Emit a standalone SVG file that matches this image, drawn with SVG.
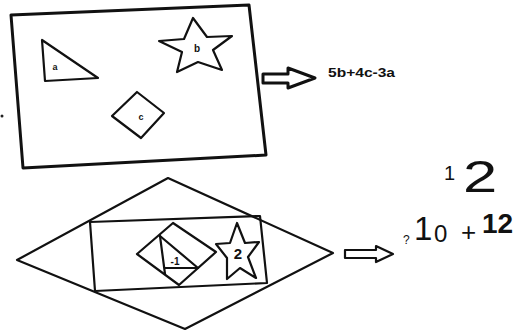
<svg xmlns="http://www.w3.org/2000/svg" width="523" height="331" viewBox="0 0 523 331">
<style>
.s{fill:none;stroke:#111;stroke-width:2.2;stroke-linejoin:round;stroke-linecap:round}
.thick{stroke-width:3}
.lbl{font-family:"Liberation Sans",Arial,sans-serif;fill:#111;font-weight:bold;text-anchor:middle}
.hand{font-family:"Liberation Sans",Arial,sans-serif;fill:#111}
</style>
<rect width="523" height="331" fill="#fff"/>
<g id="frame-top">
<polygon class="s thick" points="11,15 249,5 266,155 23,168"/>
</g>
<g id="triangle-a">
<polygon class="s" points="42,40 45,81 98,78"/>
<text class="lbl" x="55" y="70" font-size="9">a</text>
</g>
<g id="star-b">
<polygon class="s" points="193,18 207,37 232,36 213,50 222,70 198,62 177,72 182,52 159,41 184,39"/>
<text class="lbl" x="197" y="52" font-size="10">b</text>
</g>
<g id="diamond-c">
<polygon class="s" points="137,92 164,113 141,138 112,116"/>
<text class="lbl" x="141" y="120" font-size="9">c</text>
</g>
<circle cx="2" cy="116" r="1.5" fill="#222"/>
<g id="expr-top">
<text class="hand" x="328" y="77" font-size="12" font-weight="bold" textLength="67" lengthAdjust="spacingAndGlyphs">5b+4c-3a</text>
</g>
<g id="frame-bottom">
<polygon class="s" points="168,178 333,253 185,329 17,260"/>
<polygon class="s" points="90,222 260,216 267,283 95,291"/>
</g>
<g id="diamond-triangle">
<polygon class="s" points="173,223 216,252 179,285 137,254"/>
<polyline class="s" points="160,236 165,274"/>
<polyline class="s" points="160,236 198,268 165,268"/>
<text class="lbl" x="175" y="265" font-size="10">-1</text>
</g>
<g id="star-2">
<polygon class="s" points="237,223 245,243 259,242 248,257 256,278 240,268 227,279 227,258 216,244 230,243"/>
<text class="lbl" x="238" y="259" font-size="15" font-weight="normal">2</text>
</g>
<g id="expr-bottom">
<text class="hand"><tspan x="403" y="244" font-size="12">?</tspan><tspan x="414" y="240" font-size="33">1</tspan><tspan x="434" y="242" font-size="24">0</tspan><tspan x="461" y="241" font-size="26">+</tspan><tspan x="482" y="233" font-size="28" font-weight="bold">12</tspan></text>
<text class="hand" x="444" y="180" font-size="20">1</text>
<text class="hand" font-size="44" transform="translate(463,192) scale(1.4,1)">2</text>
</g>
<g id="connectors">
<polygon class="s thick" points="263,74 288,74 288,68 315,78 288,88 288,83 263,83"/>
<polygon class="s" points="345,250 376,250 376,246 393,254 376,262 376,258 345,258"/>
</g>
</svg>
